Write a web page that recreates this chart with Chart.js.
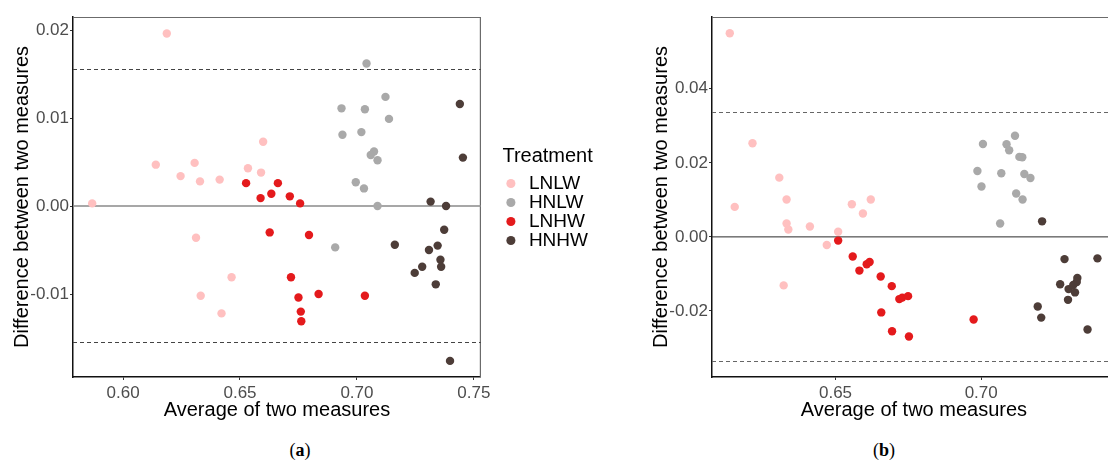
<!DOCTYPE html>
<html>
<head>
<meta charset="utf-8">
<title>Difference vs average of two measures</title>
<script src="https://cdn.jsdelivr.net/npm/chart.js@4"></script>
<style>
  html, body { margin: 0; padding: 0; background: #fff; }
  body { width: 1108px; height: 462px; overflow: hidden; position: relative; }
  .panel { position: absolute; top: 0; height: 425px; }
  #panel-a { left: 0; width: 598px; }
  #panel-b { left: 639px; width: 481px; }
  .caption { position: absolute; top: 440px; transform: translateX(-50%);
             font-family: "Liberation Serif", "DejaVu Serif", serif; font-size: 18px; color: #000; }
</style>
</head>
<body>
<div class="panel" id="panel-a"><canvas id="chart-a"></canvas></div>
<div class="panel" id="panel-b"><canvas id="chart-b"></canvas></div>
<div class="caption" style="left:300px">(<b>a</b>)</div>
<div class="caption" style="left:884px">(<b>b</b>)</div>
<script>
const treatments = ['LNLW', 'HNLW', 'LNHW', 'HNHW'];

// panel (a): [average, difference]
const aLNLW = [[0.5868, 0.0003], [0.6187, 0.0196], [0.6140, 0.0047], [0.6246, 0.0034], [0.6306, 0.0049],
  [0.6329, 0.0028], [0.6413, 0.0030], [0.6534, 0.0043], [0.6599, 0.0073], [0.6590, 0.0038],
  [0.6312, -0.0036], [0.6332, -0.0102], [0.6464, -0.0081], [0.6421, -0.0122]];
const aHNLW = [[0.7041, 0.0162], [0.7122, 0.0124], [0.6934, 0.0111], [0.7034, 0.0110], [0.7137, 0.0099],
  [0.6938, 0.0081], [0.7019, 0.0084], [0.7073, 0.0062], [0.7059, 0.0058], [0.7088, 0.0052],
  [0.6995, 0.0027], [0.7030, 0.0020], [0.7088, 0.0000], [0.6907, -0.0047]];
const aLNHW = [[0.6526, 0.0026], [0.6662, 0.0026], [0.6588, 0.0009], [0.6634, 0.0014], [0.6713, 0.0011],
  [0.6757, 0.0003], [0.6627, -0.0030], [0.6795, -0.0033], [0.6718, -0.0081], [0.6750, -0.0104],
  [0.6836, -0.0100], [0.7034, -0.0102], [0.6760, -0.0120], [0.6762, -0.0131]];
const aHNHW = [[0.7440, 0.0116], [0.7453, 0.0055], [0.7315, 0.0005], [0.7381, 0.0000], [0.7373, -0.0027],
  [0.7162, -0.0044], [0.7308, -0.0050], [0.7345, -0.0045], [0.7357, -0.0061], [0.7360, -0.0069],
  [0.7279, -0.0069], [0.7247, -0.0076], [0.7337, -0.0089], [0.7398, -0.0176]];

// panel (b)
const bLNLW = [[0.6137, 0.0550], [0.6215, 0.0253], [0.6307, 0.0160], [0.6332, 0.0101], [0.6621, 0.0101],
  [0.6154, 0.0081], [0.6556, 0.0088], [0.6594, 0.0063], [0.6332, 0.0036], [0.6338, 0.0020],
  [0.6412, 0.0028], [0.6509, 0.0014], [0.6470, -0.0022], [0.6322, -0.0131]];
const bHNLW = [[0.7116, 0.0273], [0.7006, 0.0251], [0.7087, 0.0250], [0.7096, 0.0234], [0.7131, 0.0216],
  [0.7141, 0.0215], [0.6987, 0.0178], [0.7069, 0.0172], [0.7148, 0.0170], [0.7169, 0.0159],
  [0.7001, 0.0136], [0.7120, 0.0117], [0.7142, 0.0101], [0.7065, 0.0036]];
const bLNHW = [[0.6509, -0.0010], [0.6559, -0.0053], [0.6582, -0.0091], [0.6607, -0.0074], [0.6617, -0.0068],
  [0.6655, -0.0107], [0.6693, -0.0133], [0.6719, -0.0168], [0.6729, -0.0164], [0.6749, -0.0160],
  [0.6657, -0.0204], [0.6694, -0.0255], [0.6752, -0.0269], [0.6974, -0.0223]];
const bHNHW = [[0.7209, 0.0042], [0.7286, -0.0060], [0.7399, -0.0058], [0.7271, -0.0128], [0.7330, -0.0111],
  [0.7328, -0.0122], [0.7300, -0.0141], [0.7322, -0.0150], [0.7298, -0.0170], [0.7194, -0.0188],
  [0.7206, -0.0218], [0.7365, -0.0250], [0.7316, -0.0130]];

// bias and limits of agreement
const aBias = 0;
const aLimits = [-0.01545, 0.01557];
const bBias = 0;
const bLimits = [-0.03351, 0.03362];

// axis ranges and ticks
const aXRange = [0.5786, 0.7530];
const aYRange = [-0.01943, 0.02148];
const aXTicks = [0.60, 0.65, 0.70, 0.75];
const aYTicks = [-0.01, 0.00, 0.01, 0.02];
const bXRange = [0.6076, 0.7462];
const bYRange = [-0.03784, 0.05938];
const bXTicks = [0.65, 0.70];
const bYTicks = [-0.02, 0.00, 0.02, 0.04];

const colors = { LNLW: '#FFC0C0', HNLW: '#A9A9A9', LNHW: '#E41A1C', HNHW: '#4D3D38' };
const sans = '"Liberation Sans", Arial, sans-serif';

// horizontal reference lines + grey frame on the top and right of the panel
const refLines = {
  id: 'refLines',
  beforeDatasetsDraw(chart, args, opts) {
    const { ctx, chartArea: { left, right, top, bottom }, scales: { y } } = chart;
    ctx.save();
    ctx.strokeStyle = opts.frameColor;
    ctx.lineWidth = 1.2;
    ctx.beginPath();
    ctx.moveTo(left, top + 0.5);
    ctx.lineTo(right - 0.5, top + 0.5);
    ctx.lineTo(right - 0.5, bottom);
    ctx.stroke();

    ctx.strokeStyle = opts.biasColor;
    ctx.lineWidth = opts.biasWidth;
    const yb = y.getPixelForValue(opts.bias);
    ctx.beginPath();
    ctx.moveTo(left, yb);
    ctx.lineTo(right, yb);
    ctx.stroke();

    ctx.strokeStyle = opts.limitColor;
    ctx.lineWidth = 1;
    ctx.setLineDash([4, 3]);
    opts.limits.forEach((v) => {
      const yl = Math.round(y.getPixelForValue(v)) + 0.5;
      ctx.beginPath();
      ctx.moveTo(left, yl);
      ctx.lineTo(right, yl);
      ctx.stroke();
    });
    ctx.restore();
  }
};

function toPoints(pairs) {
  return pairs.map(([x, y]) => ({ x, y }));
}

function fixedTicks(values) {
  return (scale) => { scale.ticks = values.map((v) => ({ value: v })); };
}

function makeChart(canvasId, cfg) {
  const datasets = treatments.map((t, i) => ({
    label: t,
    data: toPoints(cfg.series[i]),
    backgroundColor: colors[t],
    borderColor: colors[t],
    borderWidth: 0,
    pointRadius: 4.2,
    pointHoverRadius: 4.2,
    pointStyle: 'circle'
  }));

  const scales = {
    x: {
      type: 'linear',
      min: cfg.xRange[0],
      max: cfg.xRange[1],
      afterBuildTicks: fixedTicks(cfg.xTicks),
      afterFit: (s) => { s.height = 48; },
      grid: { drawOnChartArea: false, tickLength: 3, color: '#333', tickWidth: 1 },
      border: { display: true, color: '#111', width: 1.5 },
      ticks: { color: '#4D4D4D', padding: 3, font: { family: sans, size: 17 }, callback: (v) => v.toFixed(2) },
      title: { display: true, text: 'Average of two measures', color: '#000',
        font: { family: sans, size: 20 }, padding: { top: 0, bottom: 3 } }
    },
    y: {
      type: 'linear',
      min: cfg.yRange[0],
      max: cfg.yRange[1],
      afterBuildTicks: fixedTicks(cfg.yTicks),
      afterFit: (s) => { s.width = 73; },
      grid: { drawOnChartArea: false, tickLength: 3, color: '#333', tickWidth: 1 },
      border: { display: true, color: '#111', width: 1.5 },
      ticks: { color: '#4D4D4D', padding: 1, font: { family: sans, size: 17 }, callback: (v) => v.toFixed(2) },
      title: { display: true, text: 'Difference between two measures', color: '#000',
        font: { family: sans, size: 20 }, padding: { top: 10, bottom: 0 } }
    }
  };

  if (cfg.legend) {
    // empty axis that keeps the legend clear of the panel
    scales.gap = {
      type: 'linear',
      position: 'right',
      display: true,
      afterFit: (s) => { s.width = 21.5; },
      grid: { display: false },
      border: { display: false },
      ticks: { display: false }
    };
  }

  return new Chart(document.getElementById(canvasId), {
    type: 'scatter',
    data: { datasets },
    options: {
      responsive: true,
      maintainAspectRatio: false,
      animation: false,
      layout: { padding: { top: 17, left: 0, right: 0, bottom: 0 } },
      scales,
      plugins: {
        legend: {
          display: !!cfg.legend,
          position: 'right',
          align: 'start',
          title: {
            display: true,
            text: 'Treatment',
            color: '#000',
            position: 'start',
            font: { family: sans, size: 20 },
            padding: { top: 129, bottom: 4 }
          },
          labels: {
            usePointStyle: true,
            pointStyle: 'circle',
            boxWidth: 17,
            boxHeight: 6.4,
            padding: 0,
            color: '#000',
            font: { family: sans, size: 19, lineHeight: 1 }
          }
        },
        tooltip: { enabled: false },
        refLines: {
          bias: cfg.bias,
          limits: cfg.limits,
          biasColor: cfg.biasColor,
          biasWidth: cfg.biasWidth,
          limitColor: cfg.limitColor,
          frameColor: '#6b6b6b'
        }
      }
    },
    plugins: [refLines]
  });
}

makeChart('chart-a', {
  series: [aLNLW, aHNLW, aLNHW, aHNHW],
  xRange: aXRange, yRange: aYRange, xTicks: aXTicks, yTicks: aYTicks,
  bias: aBias, limits: aLimits, biasColor: '#8a8a8a', biasWidth: 1.4, limitColor: '#444',
  legend: true
});

makeChart('chart-b', {
  series: [bLNLW, bHNLW, bLNHW, bHNHW],
  xRange: bXRange, yRange: bYRange, xTicks: bXTicks, yTicks: bYTicks,
  bias: bBias, limits: bLimits, biasColor: '#2a2a2a', biasWidth: 1, limitColor: '#666',
  legend: false
});
</script>
</body>
</html>
